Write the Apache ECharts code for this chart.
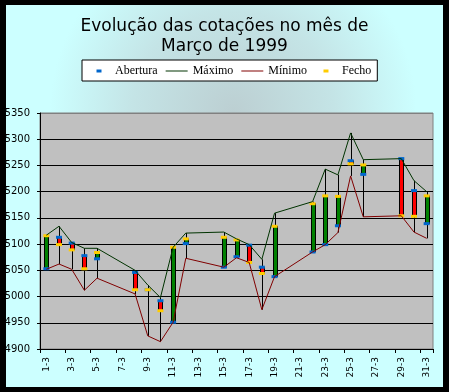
<!DOCTYPE html>
<html>
<head>
<meta charset="utf-8">
<script src="https://cdn.jsdelivr.net/npm/echarts@6.0.0/dist/echarts.min.js"></script>
<style>html,body{margin:0;padding:0;background:#000;}#c{width:449px;height:392px;}</style>
</head>
<body>
<div id="c"></div>
<script>
// Categories: every calendar day of March 1999
const days = ['1-3','2-3','3-3','4-3','5-3','6-3','7-3','8-3','9-3','10-3','11-3','12-3','13-3','14-3','15-3','16-3','17-3','18-3','19-3','20-3','21-3','22-3','23-3','24-3','25-3','26-3','27-3','28-3','29-3','30-3','31-3'];
// Trading days (day of month)
const tradingDays = [1,2,3,4,5,8,9,10,11,12,15,16,17,18,19,22,23,24,25,26,29,30,31];
const abertura = [5053,5113,5102,5078,5072,5046,5013,4992,4951,5101,5056,5076,5098,5056,5038,5085,5099,5135,5259,5233,5263,5202,5139];
const maximo   = [5117,5134,5103,5092,5092,5050,5022,4998,5094,5121,5123,5110,5099,5071,5159,5181,5243,5232,5312,5261,5263,5221,5200];
const minimo   = [5052,5062,5052,5012,5035,5005,4925,4914,4951,5073,5056,5074,5065,4975,5038,5085,5099,5122,5230,5152,5154,5123,5111];
const fecho    = [5116,5099,5089,5053,5084,5013,5013,4973,5094,5110,5113,5108,5065,5044,5134,5177,5192,5191,5253,5251,5154,5153,5192];
const yTicks = [4900,4950,5000,5050,5100,5150,5200,5250,5300,5350];

const idx = tradingDays.map(d => d - 1);
function fullSeries(vals) {
  const arr = days.map(() => '-');
  idx.forEach((k, i) => { arr[k] = vals[i]; });
  return arr;
}
const hlData = idx.map((k, i) => [k, maximo[i], minimo[i]]);
const ocData = idx.map((k, i) => [k, abertura[i], fecho[i]]);
const openPts = idx.map((k, i) => [k, abertura[i]]);
const closePts = idx.map((k, i) => [k, fecho[i]]);

const chart = echarts.init(document.getElementById('c'), null, {renderer: 'canvas'});
const splitColors = yTicks.map((v, i) => i === yTicks.length - 1 ? '#808080' : '#000');

chart.setOption({
  backgroundColor: '#000',
  animation: false,
  graphic: [{
    type: 'rect', z: -10, silent: true,
    shape: {x: 6, y: 5, width: 437, height: 382},
    style: {fill: {type: 'radial', x: 0.52, y: 0.28, r: 0.48, colorStops: [
      {offset: 0, color: '#bccfd2'}, {offset: 0.55, color: '#c4e4e6'}, {offset: 1, color: '#ccffff'}]}}
  }],
  title: {
    text: 'Evolução das cotações no mês de\nMarço de 1999',
    left: 'center', top: 12, padding: [5, 0, 5, 16],
    textStyle: {fontFamily: 'DejaVu Sans', fontSize: 17, fontWeight: 'normal', color: '#000', lineHeight: 20}
  },
  legend: {
    left: 82, top: 60, padding: [5, 6, 4, 6], itemGap: 8, itemWidth: 22, itemHeight: 6,
    backgroundColor: '#fff', borderColor: '#000', borderWidth: 1, borderRadius: 0,
    selectedMode: false,
    textStyle: {fontFamily: 'Liberation Serif', fontSize: 12, color: '#000'},
    data: [
      {name: 'Abertura', icon: 'path://M0,0M22,6M8.5,1.5h5v3h-5z'},
      {name: 'Máximo', icon: 'path://M0,0M22,6M0,2.5h22v1h-22z'},
      {name: 'Mínimo', icon: 'path://M0,0M22,6M0,2.5h22v1h-22z'},
      {name: 'Fecho', icon: 'path://M0,0M22,6M8.5,1.5h5v3h-5z'}
    ]
  },
  grid: {left: 40, top: 113, width: 393, height: 236, show: true, backgroundColor: '#c0c0c0', borderColor: '#808080', borderWidth: 1},
  xAxis: {
    type: 'category', data: days, boundaryGap: true,
    axisLine: {show: true, lineStyle: {color: '#000', width: 1}},
    axisTick: {show: true, interval: 1, length: 4, lineStyle: {color: '#000'}},
    axisLabel: {interval: 1, rotate: 90, margin: 8, fontFamily: 'DejaVu Sans', fontSize: 9, color: '#000'},
    splitLine: {show: false}
  },
  yAxis: {
    type: 'value', min: 4900, max: 5350, interval: 50,
    axisLine: {show: true, lineStyle: {color: '#000', width: 1}},
    axisTick: {show: true, length: 3, lineStyle: {color: '#000'}},
    axisLabel: {margin: 10, fontFamily: 'DejaVu Sans', fontSize: 10, color: '#000', showMinLabel: true, showMaxLabel: true, formatter: v => String(v)},
    splitLine: {show: true, lineStyle: {color: splitColors, width: 1}}
  },
  series: [
    {
      name: 'hl', type: 'custom', data: hlData, encode: {x: 0, y: [1, 2]},
      renderItem: function (params, api) {
        const a = api.coord([api.value(0), api.value(1)]);
        const b = api.coord([api.value(0), api.value(2)]);
        const x = Math.round(a[0]) + 0.5;
        return {type: 'line', shape: {x1: x, y1: a[1], x2: x, y2: b[1]}, style: {stroke: '#000', lineWidth: 1}};
      }
    },
    {
      name: 'Máximo', type: 'line', data: fullSeries(maximo), connectNulls: true, symbol: 'none',
      itemStyle: {color: '#003300'}, lineStyle: {color: '#003300', width: 1}
    },
    {
      name: 'Mínimo', type: 'line', data: fullSeries(minimo), connectNulls: true, symbol: 'none',
      itemStyle: {color: '#800000'}, lineStyle: {color: '#800000', width: 1}
    },
    {
      name: 'oc', type: 'custom', data: ocData, encode: {x: 0, y: [1, 2]},
      renderItem: function (params, api) {
        const o = api.value(1), c = api.value(2);
        const p1 = api.coord([api.value(0), o]);
        const p2 = api.coord([api.value(0), c]);
        const cx = Math.round(p1[0]);
        const top = Math.min(p1[1], p2[1]);
        const h = Math.abs(p1[1] - p2[1]);
        return {type: 'rect', shape: {x: cx - 1.5, y: top, width: 4, height: h},
          style: {fill: c >= o ? '#008000' : '#ff0000', stroke: '#000', lineWidth: 1}};
      }
    },
    {
      name: 'Abertura', type: 'scatter', data: openPts, symbol: 'rect', symbolSize: [6, 3],
      itemStyle: {color: '#0066cc', opacity: 1}
    },
    {
      name: 'Fecho', type: 'scatter', data: closePts, symbol: 'rect', symbolSize: [6, 3],
      itemStyle: {color: '#ffcc00', opacity: 1}
    }
  ]
});
</script>
</body>
</html>
